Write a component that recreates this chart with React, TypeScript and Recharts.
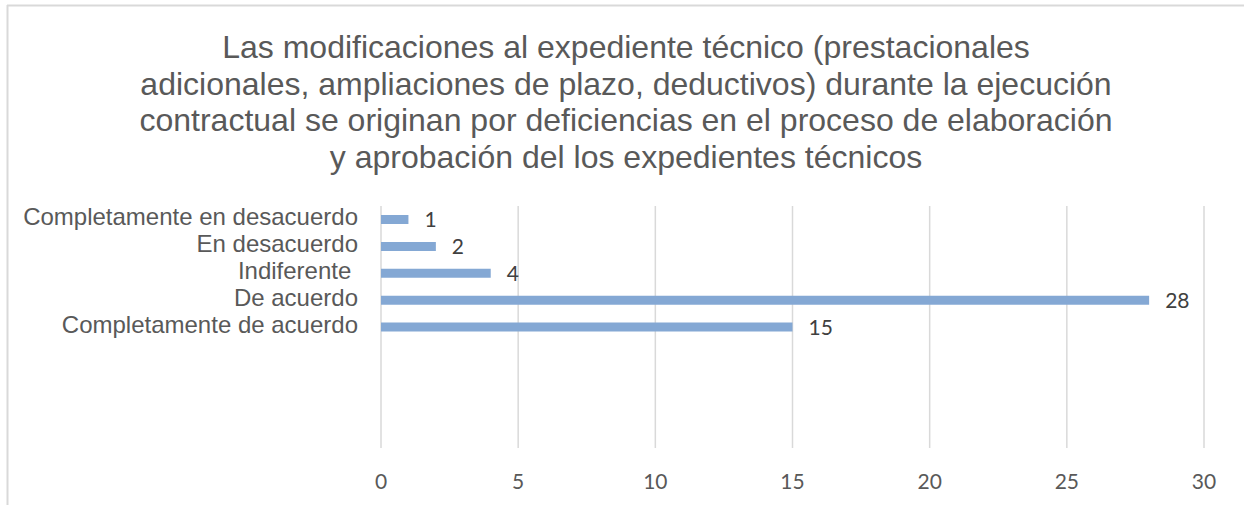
import React from "react";
import { BarChart, Bar, XAxis, YAxis, CartesianGrid, LabelList } from "recharts";

const titleLines = [
  "Las modificaciones al expediente técnico (prestacionales",
  "adicionales, ampliaciones de plazo, deductivos) durante la ejecución",
  "contractual se originan por deficiencias en el proceso de elaboración",
  "y aprobación del los expedientes técnicos",
];

const categories = [
  "Completamente en desacuerdo",
  "En desacuerdo",
  "Indiferente ",
  "De acuerdo",
  "Completamente de acuerdo",
  "",
  " ",
  "  ",
  "   ",
];

const values: (number | null)[] = [1, 2, 4, 28, 15, null, null, null, null];

const xTicks = [0, 5, 10, 15, 20, 25, 30];

const data = categories.map((name, i) => ({ name, value: values[i] }));

const CategoryTick = (props: any) => {
  const { x, y, payload } = props;
  return (
    <text
      x={x}
      y={y}
      dy={6}
      textAnchor="end"
      fill="#595959"
      fontSize={24}
      fontFamily="'Liberation Sans', Arial, sans-serif"
      style={{ whiteSpace: "pre" }}
    >
      {payload.value}
    </text>
  );
};

export default function App() {
  return (
    <div
      style={{
        position: "absolute",
        left: 0,
        top: 0,
        width: 1244,
        height: 505,
        background: "#ffffff",
        overflow: "hidden",
      }}
    >
      <BarChart
        width={1244}
        height={505}
        data={data}
        layout="vertical"
        margin={{ top: 206, right: 40, bottom: 0, left: 0 }}
      >
        <CartesianGrid horizontal={false} stroke="#d9d9d9" strokeWidth={1.5} />
        <XAxis
          type="number"
          domain={[0, 30]}
          ticks={xTicks}
          interval={0}
          axisLine={false}
          tickLine={false}
          tickSize={0}
          tickMargin={26}
          height={57}
          tick={{ fill: "#595959", fontSize: 21, fontFamily: "Lato, 'Open Sans', sans-serif" }}
        />
        <YAxis
          type="category"
          dataKey="name"
          width={381}
          axisLine={false}
          tickLine={false}
          tickSize={0}
          tickMargin={23}
          interval={0}
          tick={<CategoryTick />}
        />
        <Bar dataKey="value" fill="#84A8D4" barSize={9} isAnimationActive={false}>
          <LabelList
            dataKey="value"
            position="right"
            offset={16}
            fill="#404040"
            fontSize={21}
            fontFamily="Lato, 'Open Sans', sans-serif"
            formatter={(v: any) => (v == null ? "" : v)}
          />
        </Bar>
      </BarChart>
      <svg
        width={1244}
        height={505}
        style={{ position: "absolute", left: 0, top: 0, pointerEvents: "none" }}
      >
        <line x1={7} y1={5.5} x2={1244} y2={5.5} stroke="#d9d9d9" strokeWidth={2} />
        <line x1={7.5} y1={5} x2={7.5} y2={505} stroke="#d9d9d9" strokeWidth={2} />
        {titleLines.map((t, i) => (
          <text
            key={i}
            x={626}
            y={58 + i * 36.5}
            textAnchor="middle"
            fill="#595959"
            fontSize={32}
            fontFamily="'Liberation Sans', Arial, sans-serif"
          >
            {t}
          </text>
        ))}
      </svg>
    </div>
  );
}
